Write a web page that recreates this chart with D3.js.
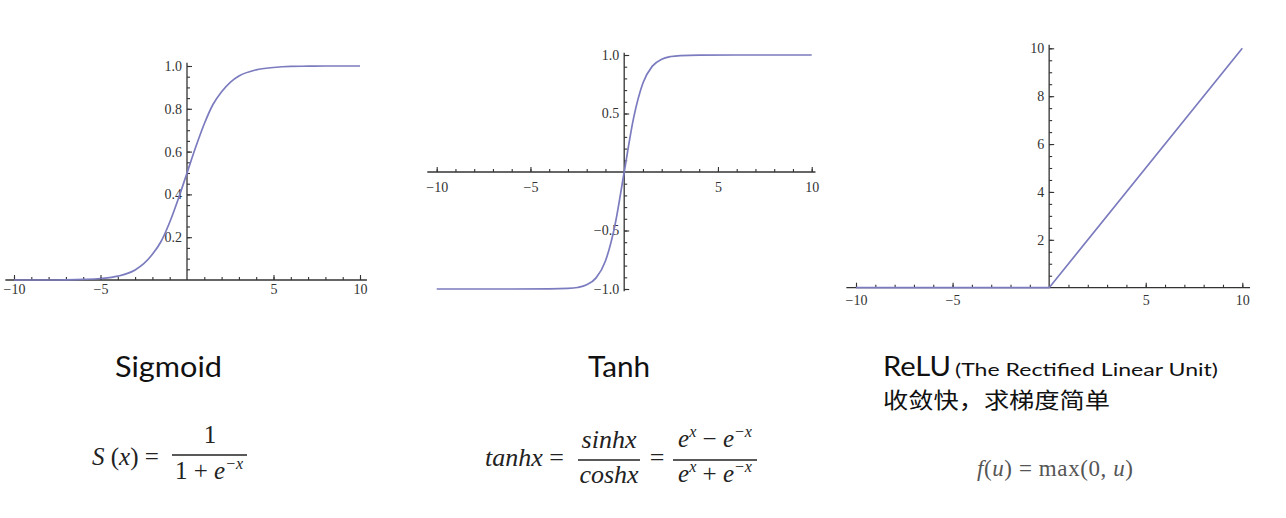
<!DOCTYPE html>
<html><head><meta charset="utf-8">
<script src="https://cdn.jsdelivr.net/npm/d3@7/dist/d3.min.js"></script>
<style>body{margin:0;background:#fff;} svg{display:block;}</style>
</head><body>
<svg id="chart" width="1286" height="518"></svg>
<script>
// ---------- data ----------
const sigmoidX = [-10,-9,-8,-7,-6,-5,-4,-3,-2.5,-2,-1.5,-1,-0.5,0,0.5,1,1.5,2,2.5,3,4,5,6,7,8,9,10];
const sigmoidY = [0.0,0.0,0.0,0.001,0.003,0.007,0.018,0.047,0.076,0.12,0.18,0.27,0.38,0.5,0.62,0.73,0.82,0.88,0.924,0.953,0.982,0.993,0.998,0.999,1.0,1.0,1.0];
const tanhX = [-10,-8,-6,-4,-3,-2.5,-2,-1.5,-1,-0.5,0,0.5,1,1.5,2,2.5,3,4,6,8,10];
const tanhY = [-1.0,-1.0,-1.0,-0.999,-0.995,-0.987,-0.964,-0.905,-0.76,-0.46,0,0.46,0.76,0.905,0.964,0.987,0.995,0.999,1.0,1.0,1.0];
const reluX = [-10,0,10];
const reluY = [0,0,10];

const xMajorTicks = [-10,-5,5,10];
const sigmoidYTicks = [0.2,0.4,0.6,0.8,1.0];
const tanhYTicks = [-1.0,-0.5,0.5,1.0];
const reluYTicks = [2,4,6,8,10];

const titles = ["Sigmoid","Tanh","ReLU"];
const reluSubtitle = "(The Rectified Linear Unit)";
const reluNote = "收敛快，求梯度简单";

// ---------- layout ----------
const svg = d3.select("#chart");
const curveColor = "#7b7bbf";
const axisColor = "#333";
const tickFont = "'Liberation Serif','DejaVu Serif',serif";

const panels = [
  {xs:sigmoidX, ys:sigmoidY, xr:[14,360], yd:[0,1], yr:[280,66], yMajor:sigmoidYTicks, yMinorStep:0.05,
   xExt:[-10.5,10.4], yTop:1.015, xLabOff:9, fmt:d3.format(".1f"), curve:d3.curveMonotoneX},
  {xs:tanhX, ys:tanhY, xr:[436.7,811.7], yd:[-1,1], yr:[289,55], yMajor:tanhYTicks, yMinorStep:0.1,
   xExt:[-10.5,10.2], yTop:1.02, yBot:-1.02, xLabOff:15, fmt:d3.format(".1f"), curve:d3.curveMonotoneX},
  {xs:reluX, ys:reluY, xr:[856,1242.3], yd:[0,10], yr:[287.7,48.3], yMajor:reluYTicks, yMinorStep:0.5,
   xExt:[-10.5,10.4], yTop:10.15, xLabOff:12, fmt:d3.format("d"), curve:d3.curveLinear}
];

panels.forEach(p => {
  const x = d3.scaleLinear().domain([-10,10]).range(p.xr);
  const y = d3.scaleLinear().domain(p.yd).range(p.yr);
  const g = svg.append("g");
  const y0 = y(0), x0 = x(0);

  // axis lines
  g.append("line").attr("x1",x(p.xExt[0])).attr("x2",x(p.xExt[1])).attr("y1",y0).attr("y2",y0)
    .attr("stroke",axisColor).attr("stroke-width",1.3);
  g.append("line").attr("x1",x0).attr("x2",x0).attr("y1",y(p.yBot!==undefined?p.yBot:p.yd[0])).attr("y2",y(p.yTop))
    .attr("stroke",axisColor).attr("stroke-width",1.3);

  // x axis ticks
  const xMinor = d3.axisBottom(x).tickValues(d3.range(-10,10.01,1).filter(v=>v!==0)).tickSize(-3).tickFormat("");
  const xMajor = d3.axisBottom(x).tickValues(xMajorTicks).tickSize(-5).tickPadding(p.xLabOff-6)
      .tickFormat(d => d<0 ? "\u2212"+Math.abs(d) : d);
  [xMinor,xMajor].forEach(ax => {
    const a = g.append("g").attr("transform",`translate(0,${y0})`).call(ax.tickSizeOuter(0));
    a.select(".domain").remove();
    a.selectAll("line").attr("stroke",axisColor).attr("stroke-width",1.1);
    a.selectAll("text").attr("font-family",tickFont).attr("font-size",14).attr("fill","#333").attr("dy","0.35em").attr("y",p.xLabOff);
  });

  // y axis ticks
  const minorVals = d3.range(p.yd[0], p.yd[1]+1e-9, p.yMinorStep).filter(v => Math.abs(v)>1e-9);
  const yMinor = d3.axisLeft(y).tickValues(minorVals).tickSize(-3).tickFormat("");
  const yMajor = d3.axisLeft(y).tickValues(p.yMajor).tickSize(-5).tickPadding(5).tickFormat(p.fmt);
  [yMinor,yMajor].forEach(ax => {
    const a = g.append("g").attr("transform",`translate(${x0},0)`).call(ax.tickSizeOuter(0));
    a.select(".domain").remove();
    a.selectAll("line").attr("stroke",axisColor).attr("stroke-width",1.1);
    a.selectAll("text").attr("font-family",tickFont).attr("font-size",14).attr("fill","#333");
  });

  // curve
  const data = p.xs.map((v,i)=>[v,p.ys[i]]);
  g.append("path").datum(data)
    .attr("d", d3.line().x(d=>x(d[0])).y(d=>y(d[1])).curve(p.curve))
    .attr("fill","none").attr("stroke",curveColor).attr("stroke-width",1.7);
});

// ---------- titles ----------
const titleFont = "Lato,'Open Sans',sans-serif";
function title(str,x,y,size,len,font){
  return svg.append("text").attr("x",x).attr("y",y).attr("font-family",font||titleFont).attr("font-size",size)
    .attr("fill","#111").attr("textLength",len).attr("lengthAdjust","spacingAndGlyphs").text(str);
}
title(titles[0],115,377,28,107);
title(titles[1],588,377,28,62);
title(titles[2],883,376,26,68);
title(reluSubtitle,955,376,18,263);
title(reluNote,883,408,22,227,"'Noto Sans CJK SC',sans-serif");

// ---------- formulas ----------
const mathFont = "'Liberation Serif','DejaVu Serif',serif";
const ink = "#222";
function txt(x,y,size,anchor){
  return svg.append("text").attr("x",x).attr("y",y).attr("font-family",mathFont).attr("font-size",size)
    .attr("fill",ink).attr("text-anchor",anchor||"start");
}
function bar(x1,x2,yy){
  svg.append("line").attr("x1",x1).attr("x2",x2).attr("y1",yy).attr("y2",yy).attr("stroke",ink).attr("stroke-width",1.4);
}
// Sigmoid: S(x) = 1 / (1 + e^-x)
let t = txt(92,465,25);
t.append("tspan").attr("font-style","italic").text("S");
t.append("tspan").text(" (");
t.append("tspan").attr("font-style","italic").text("x");
t.append("tspan").text(") =");
txt(210,443,25,"middle").text("1");
bar(172,247,455);
t = txt(209,479,25,"middle");
t.append("tspan").text("1 + ");
t.append("tspan").attr("font-style","italic").text("e");
t.append("tspan").attr("font-style","italic").attr("font-size",16).attr("dy",-10).text("\u2212x");

// Tanh
t = txt(485,466,26);
t.append("tspan").attr("font-style","italic").text("tanhx");
t.append("tspan").text(" =");
t = txt(609,448,26,"middle"); t.append("tspan").attr("font-style","italic").text("sinhx");
bar(578,640,460);
t = txt(609,483,26,"middle"); t.append("tspan").attr("font-style","italic").text("coshx");
txt(657,466,26,"middle").text("=");
function expPair(cx,cy,op){
  const e = txt(cx,cy,25,"middle");
  e.append("tspan").attr("font-style","italic").text("e");
  e.append("tspan").attr("font-style","italic").attr("font-size",16).attr("dy",-10).text("x");
  e.append("tspan").attr("dy",10).text(" "+op+" ");
  e.append("tspan").attr("font-style","italic").text("e");
  e.append("tspan").attr("font-style","italic").attr("font-size",16).attr("dy",-10).text("\u2212x");
}
expPair(715,447,"\u2212");
bar(673,757,460);
expPair(715,482,"+");

// ReLU
t = svg.append("text").attr("x",1055).attr("y",476).attr("font-family",mathFont).attr("font-size",23)
  .attr("fill","#555").attr("text-anchor","middle").attr("textLength",156).attr("lengthAdjust","spacing");
t.append("tspan").attr("font-style","italic").text("f");
t.append("tspan").text("(");
t.append("tspan").attr("font-style","italic").text("u");
t.append("tspan").text(") = max(0, ");
t.append("tspan").attr("font-style","italic").text("u");
t.append("tspan").text(")");
</script>
</body></html>
